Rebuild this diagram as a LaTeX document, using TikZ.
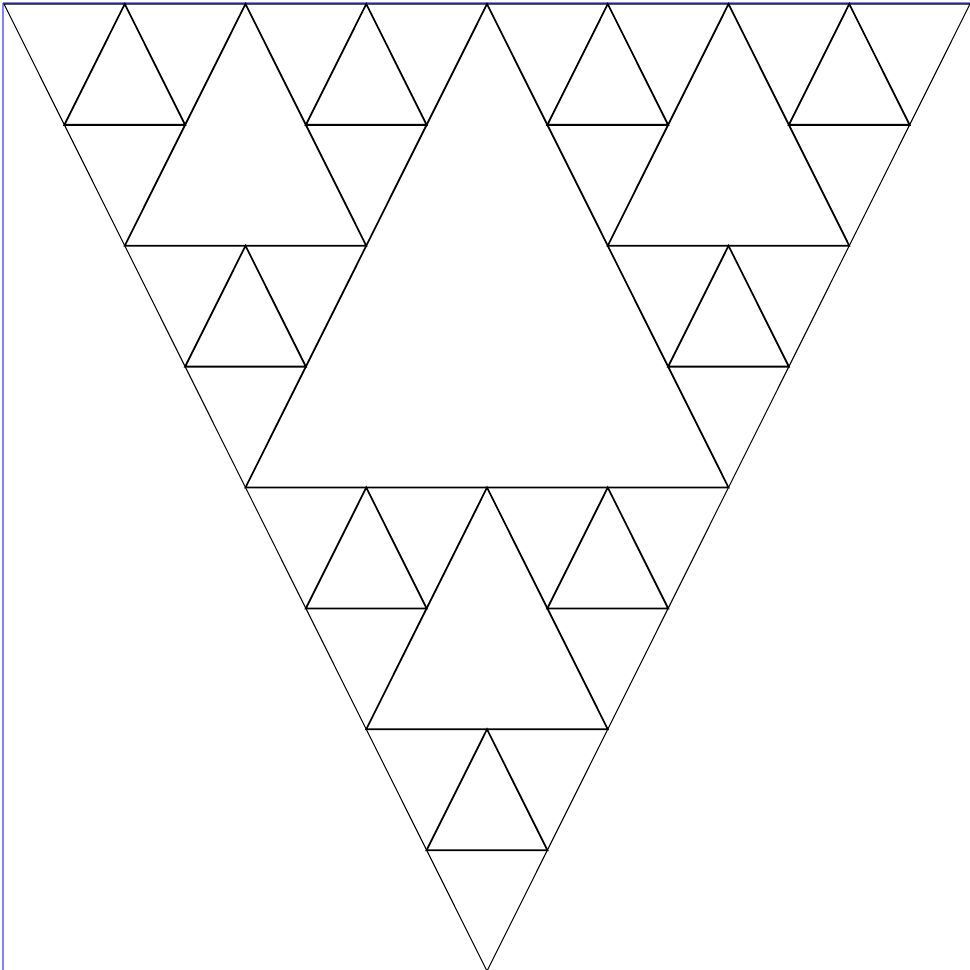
\documentclass[tikz,border=0pt]{standalone}
\begin{document}
\begin{tikzpicture}[x=0.01cm,y=-0.01cm,
  outer/.style={draw=black,line width=0.3pt,line join=miter},
  inner/.style={draw=black,line width=0.5pt},
  axis/.style={draw={rgb,255:red,130;green,130;blue,255},line width=0.6pt}]
\useasboundingbox (0,0) rectangle (970,970);
\draw[axis] (3,3) -- (3,970);
\draw[axis] (3,3) -- (970,3);
\coordinate (A) at (4,4);
\coordinate (B) at (970,4);
\coordinate (C) at (487,971);
\draw[outer] (A) -- (B) -- (C) -- cycle;
\foreach \x/\y/\w in {4/4/966,
  4/4/483, 487/4/483, 245.5/487.5/483,
  4/4/241.5, 245.5/4/241.5, 124.75/245.75/241.5,
  487/4/241.5, 728.5/4/241.5, 607.75/245.75/241.5,
  245.5/487.5/241.5, 487/487.5/241.5, 366.25/729.25/241.5}{
  \pgfmathsetmacro\h{\w/966*967}
  \draw[inner] ({\x+\w/4},{\y+\h/2}) -- ({\x+3*\w/4},{\y+\h/2}) -- ({\x+\w/2},\y) -- cycle;
}
\end{tikzpicture}
\end{document}
